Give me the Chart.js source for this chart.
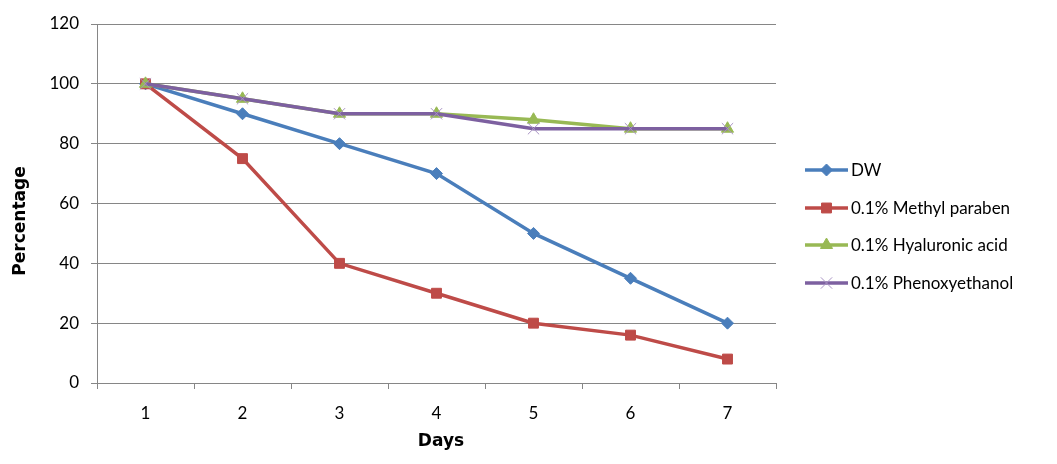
<!DOCTYPE html>
<html>
<head>
<meta charset="utf-8">
<script src="https://cdn.jsdelivr.net/npm/chart.js@4.4.1/dist/chart.umd.min.js"></script>
<style>
  html, body { margin: 0; padding: 0; background: #fff; }
  #wrap { width: 1057px; height: 464px; }
</style>
</head>
<body>
<div id="wrap"><canvas id="chart" width="1057" height="464"></canvas></div>
<script>
const days = ['1', '2', '3', '4', '5', '6', '7'];
const dw = [100, 90, 80, 70, 50, 35, 20];
const methylParaben = [100, 75, 40, 30, 20, 16, 8];
const hyaluronicAcid = [100, 95, 90, 90, 88, 85, 85];
const phenoxyethanol = [100, 95, 90, 90, 85, 85, 85];

const FONT = 'Lato, "Open Sans", sans-serif';
const TITLE_FONT = '"DejaVu Sans", Verdana, sans-serif';

const series = [
    { label: 'DW', data: dw, color: '#4A7EBB', style: 'rectRot', radius: 6, order: 4 },
    { label: '0.1% Methyl paraben', data: methylParaben, color: '#BE4B48', style: 'rect', radius: 7, order: 3 },
    { label: '0.1% Hyaluronic acid', data: hyaluronicAcid, color: '#98B954', style: 'triangle', radius: 7, order: 2 },
    { label: '0.1% Phenoxyethanol', data: phenoxyethanol, color: '#7D60A0', style: 'crossRot', radius: 8, order: 1 }
];

// titulos de ejes y leyenda a la derecha con linea y marcador
const sideLegend = {
    id: 'sideLegend',
    afterDraw(chart) {
        const ctx = chart.ctx;
        const x0 = 805, x1 = 848;
        const rows = [170, 208, 245, 283];
        ctx.save();
        series.forEach((s, i) => {
            const y = rows[i];
            ctx.strokeStyle = s.color;
            ctx.lineWidth = 3.5;
            ctx.beginPath();
            ctx.moveTo(x0, y);
            ctx.lineTo(x1, y);
            ctx.stroke();
            ctx.fillStyle = s.color;
            ctx.strokeStyle = s.style === 'crossRot' ? '#A993C4' : s.color;
            ctx.lineWidth = 1;
            Chart.helpers.drawPoint(ctx, { pointStyle: s.style, radius: s.radius, borderWidth: 1 }, (x0 + x1) / 2, y);
            ctx.fillStyle = '#000';
            ctx.font = '17px ' + FONT;
            ctx.textBaseline = 'middle';
            ctx.textAlign = 'left';
            ctx.fillText(s.label, 851, y + 1);
        });

        ctx.fillStyle = '#000';
        ctx.font = 'bold 17px ' + TITLE_FONT;
        ctx.textAlign = 'center';
        ctx.textBaseline = 'middle';
        ctx.fillText('Days', 441, 442);

        ctx.translate(21, 221);
        ctx.rotate(-Math.PI / 2);
        ctx.fillText('Percentage', 0, 0);
        ctx.restore();
    }
};

new Chart(document.getElementById('chart'), {
    type: 'line',
    data: {
        labels: days,
        datasets: series.map(s => ({
            label: s.label,
            data: s.data,
            borderColor: s.color,
            backgroundColor: s.color,
            borderWidth: 3.5,
            pointStyle: s.style,
            pointRadius: s.radius,
            pointBorderWidth: 1,
            pointBorderColor: s.style === 'crossRot' ? '#A993C4' : s.color,
            pointBackgroundColor: s.color,
            tension: 0,
            order: s.order
        }))
    },
    options: {
        responsive: false,
        animation: false,
        layout: { padding: { top: 24, right: 281, left: 0, bottom: 0 } },
        plugins: {
            legend: { display: false },
            tooltip: { enabled: false }
        },
        scales: {
            x: {
                offset: true,
                grid: {
                    offset: true,
                    drawOnChartArea: false,
                    drawTicks: true,
                    tickLength: 6,
                    color: '#868686'
                },
                border: { display: true, color: '#868686', width: 1 },
                ticks: { color: '#000', font: { family: FONT, size: 17 }, padding: 14 },
                afterFit(scale) { scale.height = 81; }
            },
            y: {
                min: 0,
                max: 120,
                ticks: {
                    stepSize: 20,
                    color: '#000',
                    font: { family: FONT, size: 17 },
                    padding: 12
                },
                grid: {
                    color: '#868686',
                    tickLength: 6,
                    lineWidth: 1
                },
                border: { display: true, color: '#868686', width: 1 },
                afterFit(scale) { scale.width = 97; }
            }
        }
    },
    plugins: [sideLegend]
});
</script>
</body>
</html>
